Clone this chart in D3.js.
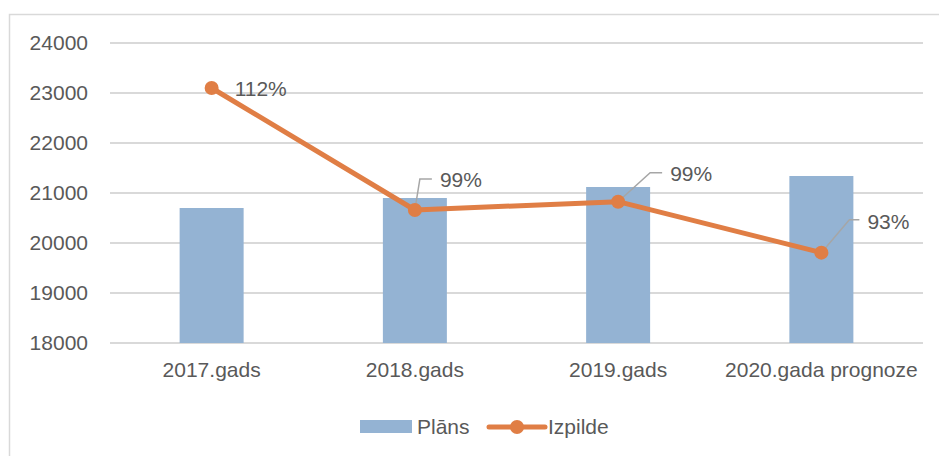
<!DOCTYPE html>
<html>
<head>
<meta charset="utf-8">
<script src="https://cdnjs.cloudflare.com/ajax/libs/d3/7.8.5/d3.min.js"></script>
<style>
  body { margin: 0; background: #fff; }
  svg { display: block; font-family: "Liberation Sans", Arial, sans-serif; }
  .grid line { stroke: #d9d9d9; stroke-width: 2; }
  text { fill: #595959; }
</style>
</head>
<body>
<svg id="chart" width="939" height="456"></svg>
<script>
var categories = ['2017.gads', '2018.gads', '2019.gads', '2020.gada prognoze'];
var plans = [20700, 20900, 21120, 21340];
var izpilde = [23100, 20660, 20826, 19807];
var pctLabels = ['112%', '99%', '99%', '93%'];
var yTicks = [18000, 19000, 20000, 21000, 22000, 23000, 24000];

var margin = {top: 43, right: 16, bottom: 113, left: 110},
  width = 939 - margin.left - margin.right,
  height = 456 - margin.top - margin.bottom;

var svg = d3.select('#chart');

// outer chart border (top + left visible)
svg.append('path')
  .attr('d', 'M9.5,456 V14.5 H939')
  .attr('fill', 'none')
  .attr('stroke', '#d9d9d9')
  .attr('stroke-width', 1.5);

var g = svg.append('g').attr('transform', `translate(${margin.left},${margin.top})`);

var x = d3.scaleBand().domain(categories).range([0, width]);
var y = d3.scaleLinear().domain([18000, 24000]).range([height, 0]);
var barW = 64;
var cx = i => x(categories[i]) + x.bandwidth() / 2;

// gridlines
g.append('g').attr('class', 'grid')
  .selectAll('line').data(yTicks).join('line')
  .attr('x1', 0).attr('x2', width)
  .attr('y1', d => y(d)).attr('y2', d => y(d));

// y labels
var yAxis = d3.axisLeft(y).tickValues(yTicks).tickSize(0).tickPadding(22).tickFormat(d3.format('d'));
g.append('g').call(yAxis)
  .call(s => s.select('.domain').remove())
  .selectAll('text').attr('font-size', 21).attr('fill', '#595959');

// bars
g.selectAll('.bar').data(plans).join('rect')
  .attr('class', 'bar')
  .attr('x', (d, i) => cx(i) - barW / 2)
  .attr('width', barW)
  .attr('y', d => y(d))
  .attr('height', d => height - y(d))
  .attr('fill', '#94b3d3');

// x labels
var xAxis = d3.axisBottom(x).tickSize(0).tickPadding(19);
g.append('g').attr('transform', `translate(0,${height})`).call(xAxis)
  .call(s => s.select('.domain').remove())
  .selectAll('text').attr('font-size', 21).attr('fill', '#595959');

// line
var line = d3.line().x((d, i) => cx(i)).y(d => y(d));
g.append('path').datum(izpilde)
  .attr('d', line)
  .attr('fill', 'none')
  .attr('stroke', '#e07e45')
  .attr('stroke-width', 5)
  .attr('stroke-linejoin', 'round');

// leader lines for labels 2-4
var leaders = [null, [5, -31, 17], [32, -29, 44], [28, -33, 38]];
g.selectAll('.leader').data(leaders).join('path')
  .attr('class', 'leader')
  .attr('d', (d, i) => d ? `M${cx(i)},${y(izpilde[i])} L${cx(i) + d[0]},${y(izpilde[i]) + d[1]} H${cx(i) + d[2]}` : null)
  .attr('fill', 'none')
  .attr('stroke', '#a6a6a6')
  .attr('stroke-width', 1.5);

g.selectAll('.dot').data(izpilde).join('circle')
  .attr('class', 'dot')
  .attr('cx', (d, i) => cx(i))
  .attr('cy', d => y(d))
  .attr('r', 7)
  .attr('fill', '#e07e45');

// percent labels
var labelOff = [[23, 1], [25, -30], [52, -28], [46, -31]];
g.selectAll('.pct').data(pctLabels).join('text')
  .attr('class', 'pct')
  .attr('x', (d, i) => cx(i) + labelOff[i][0])
  .attr('y', (d, i) => y(izpilde[i]) + labelOff[i][1])
  .attr('dy', '0.35em')
  .attr('font-size', 21)
  .text(d => d);

// legend
var lg = svg.append('g');
lg.append('rect').attr('x', 360).attr('y', 420).attr('width', 52).attr('height', 13).attr('fill', '#94b3d3');
lg.append('text').attr('x', 417).attr('y', 427).attr('dy', '0.35em').attr('font-size', 21).text('Plāns');
lg.append('line').attr('x1', 489).attr('x2', 545).attr('y1', 427).attr('y2', 427)
  .attr('stroke', '#e07e45').attr('stroke-width', 5).attr('stroke-linecap', 'round');
lg.append('circle').attr('cx', 517).attr('cy', 427).attr('r', 7).attr('fill', '#e07e45');
lg.append('text').attr('x', 548).attr('y', 427).attr('dy', '0.35em').attr('font-size', 21).text('Izpilde');
</script>
</body>
</html>
